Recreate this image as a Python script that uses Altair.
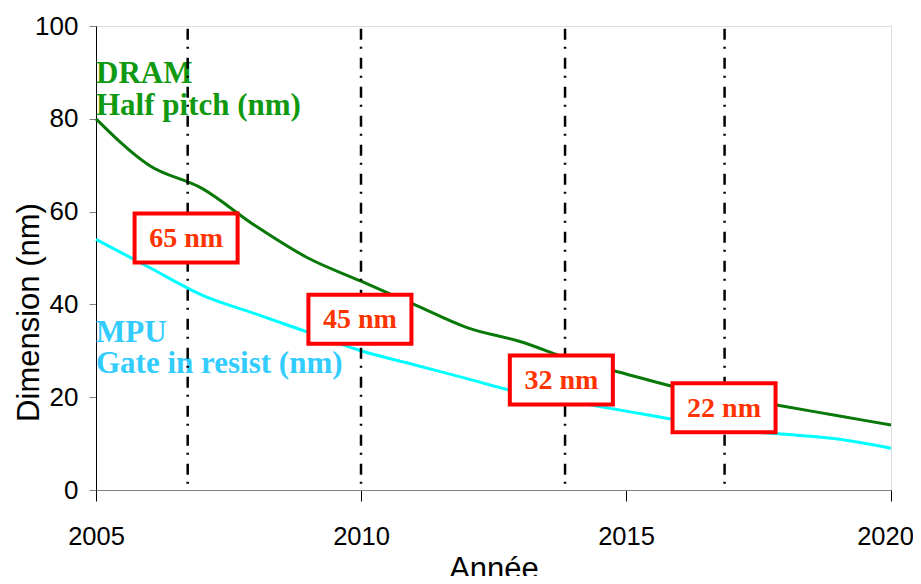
import altair as alt
import pandas as pd

# ---- data ----
years = list(range(2005, 2021))
dram_half_pitch = [80, 70, 65, 57, 50, 45, 40, 35, 32, 28, 25, 22, 20, 18, 16, 14]
mpu_gate = [54, 48, 42, 38, 34, 30, 27, 24, 21, 19, 17, 15, 13, 12, 11, 9]

node_years = [2006.73, 2010.0, 2013.85, 2016.86]

box_labels = ["65 nm", "45 nm", "32 nm", "22 nm"]
box_year = [2006.70, 2009.98, 2013.78, 2016.85]
box_value = [54.3, 36.8, 23.7, 17.7]

legend_text = ["DRAM", "Half pitch (nm)", "MPU", "Gate in resist (nm)"]
legend_value = [87.7, 80.8, 31.8, 25.2]
legend_series = ["DRAM", "DRAM", "MPU", "MPU"]

# ---- tables ----
lines_df = pd.DataFrame({
    "year": years * 2,
    "value": dram_half_pitch + mpu_gate,
    "series": ["DRAM"] * len(years) + ["MPU"] * len(years),
})
nodes_df = pd.DataFrame({"year": node_years, "top": [99.4] * len(node_years), "bottom": [0] * len(node_years)})
HW, HH = 0.972, 5.28
boxes_df = pd.DataFrame({
    "label": box_labels,
    "year": box_year,
    "value": box_value,
})
boxes_df["x1"] = boxes_df["year"] - HW
boxes_df["x2"] = boxes_df["year"] + HW
boxes_df["y1"] = boxes_df["value"] - HH
boxes_df["y2"] = boxes_df["value"] + HH
legend_df = pd.DataFrame({"text": legend_text, "value": legend_value, "series": legend_series,
                          "year": [2005] * 4})

xscale = alt.Scale(domain=[2005, 2020], nice=False, zero=False)
yscale = alt.Scale(domain=[0, 100], nice=False)

xaxis = alt.Axis(values=[2005, 2010, 2015, 2020], format="d", title="Année",
                 labelFont="Liberation Sans", labelFontSize=25.5, labelColor="black",
                 labelPadding=23, labelFlush=False,
                 labelOffset={"condition": {"test": "datum.value == 2020", "value": -6}, "value": 0},
                 tickSize=11, tickColor="black", tickWidth=1,
                 domainColor="#808080", domainWidth=1, grid=False,
                 titleFont="Liberation Sans", titleFontSize=31, titleFontWeight="normal",
                 titleColor="black", titleBaseline="alphabetic", titleY=88)
yaxis = alt.Axis(values=[0, 20, 40, 60, 80, 100], title="Dimension (nm)",
                 labelFont="Liberation Sans", labelFontSize=26, labelColor="black",
                 labelPadding=11, labelFlush=False, tickSize=7, tickColor="#808080", tickWidth=1,
                 domainColor="black", domainWidth=1, grid=False,
                 titleFont="Liberation Sans", titleFontSize=31, titleFontWeight="normal",
                 titleColor="black", titleBaseline="alphabetic", titleX=-58, titleY=286)

legend = alt.Chart(legend_df).mark_text(
    align="left", baseline="alphabetic", font="Liberation Serif", fontSize=31, fontWeight="bold"
).encode(
    x=alt.X("year:Q", scale=xscale, axis=xaxis),
    y=alt.Y("value:Q", scale=yscale, axis=yaxis),
    text="text:N",
    color=alt.Color("series:N", scale=alt.Scale(domain=["DRAM", "MPU"], range=["#119911", "#33CCFF"]), legend=None),
)

lines = alt.Chart(lines_df).mark_line(strokeWidth=3, interpolate="monotone").encode(
    x=alt.X("year:Q", scale=xscale),
    y=alt.Y("value:Q", scale=yscale),
    stroke=alt.Stroke("series:N", scale=alt.Scale(domain=["DRAM", "MPU"], range=["#087808", "#00FFFF"]), legend=None),
)

nodes = alt.Chart(nodes_df).mark_rule(color="black", strokeWidth=2.5, strokeDash=[11, 7, 2, 9]).encode(
    x=alt.X("year:Q", scale=xscale),
    y=alt.Y("top:Q", scale=yscale),
    y2="bottom:Q",
)

boxes = alt.Chart(boxes_df).mark_rect(fill="white", stroke="#FF0000", strokeWidth=4).encode(
    x=alt.X("x1:Q", scale=xscale),
    x2="x2:Q",
    y=alt.Y("y1:Q", scale=yscale),
    y2="y2:Q",
)

box_text = alt.Chart(boxes_df).mark_text(
    align="center", baseline="middle", font="Liberation Serif", fontSize=28, fontWeight="bold",
    color="#FF3300", dy=1
).encode(
    x=alt.X("year:Q", scale=xscale),
    y=alt.Y("value:Q", scale=yscale),
    text="label:N",
)

chart = alt.layer(legend, lines, nodes, boxes, box_text).resolve_scale(
    color="independent", stroke="independent"
).properties(
    width=795, height=464,
    autosize=alt.AutoSizeParams(type="none"),
    padding={"left": 88, "top": 18, "right": 22, "bottom": 86},
).configure_view(stroke=None).configure(background="white")

chart.save("out.html", embed_options={"renderer": "svg", "actions": False})
